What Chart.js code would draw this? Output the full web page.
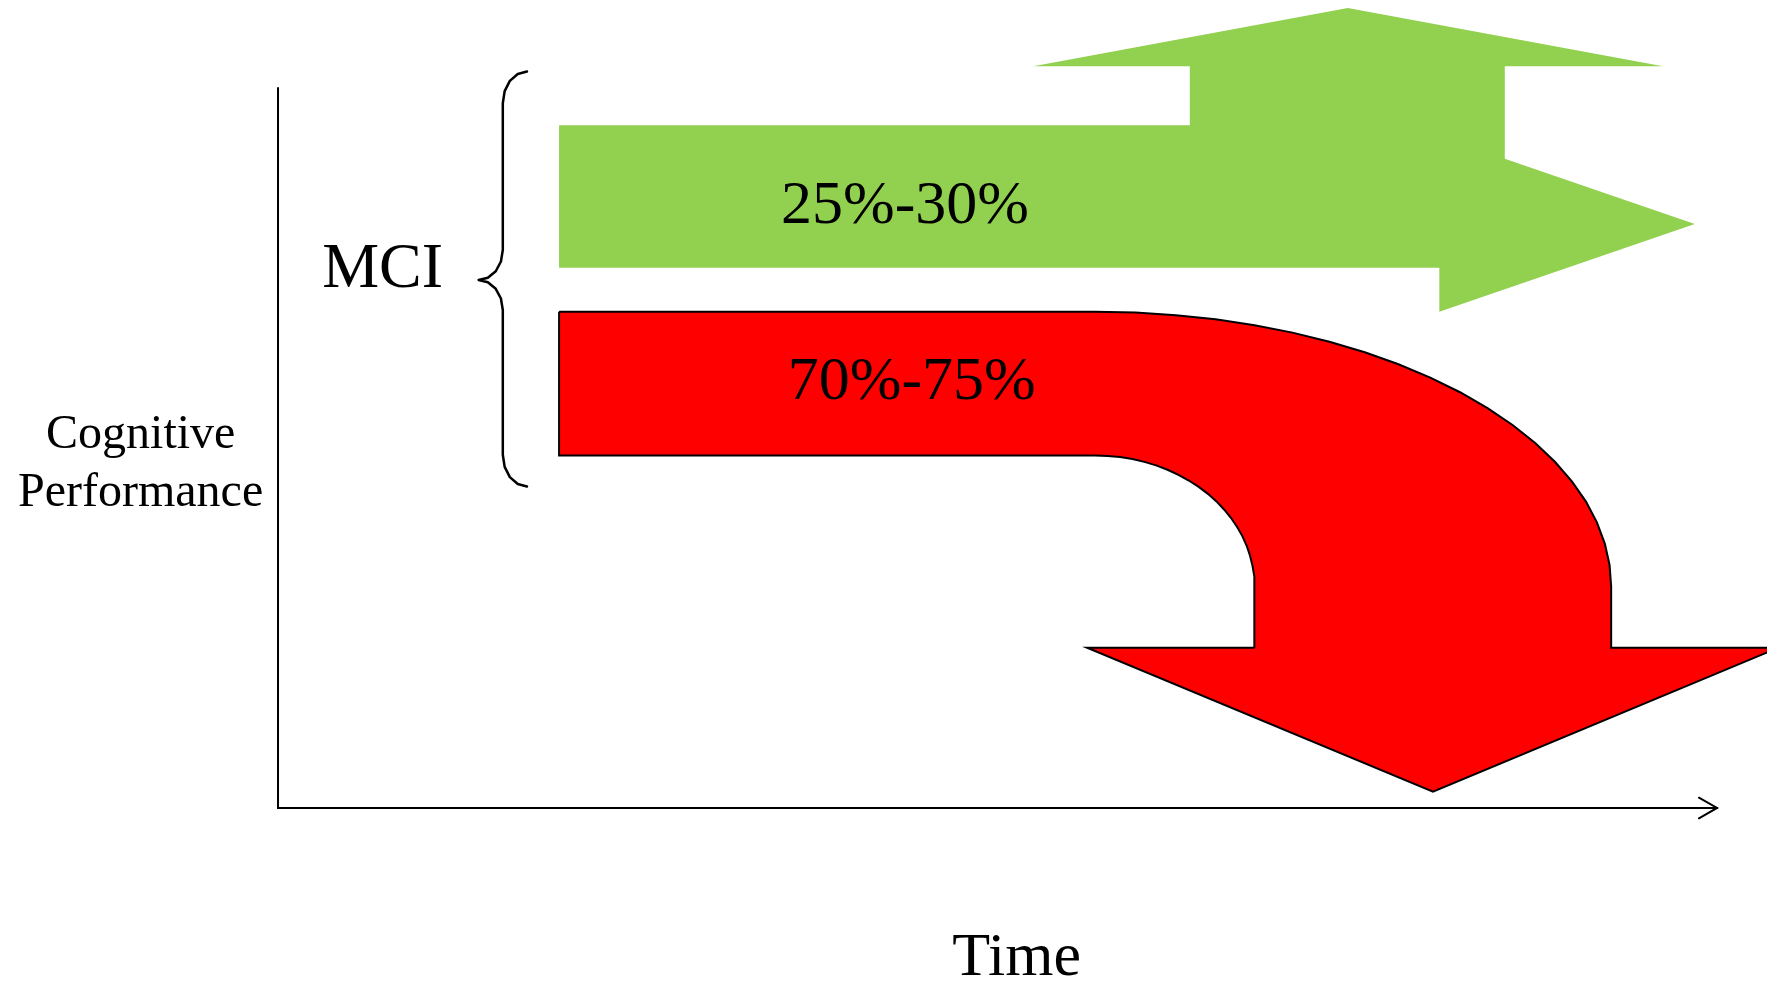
<!DOCTYPE html>
<html>
<head>
<meta charset="utf-8">
<title>MCI outcomes over time</title>
<script src="https://cdn.jsdelivr.net/npm/chart.js@4.4.1/dist/chart.umd.min.js"></script>
<style>
  html, body { margin: 0; padding: 0; background: #ffffff; }
  canvas { display: block; }
</style>
</head>
<body>
<canvas id="chart" width="1767" height="981"></canvas>
<script>
// Time (x) and cognitive performance (y) run 0-100 between the drawn axis lines;
// the scale ranges leave room around them for the arrows and labels.
const xRange = [-19.32, 103.47];
const yRange = [-24.03, 112.22];

// Axis lines: performance axis up the left, time axis along the bottom
const axisX = [0, 0, 100];
const axisY = [100, 0, 0];

// Open arrowhead at the end of the time axis
const axisHeadX = [98.74, 100, 98.74];
const axisHeadY = [1.43, 0, -1.43];

// Green arrow: stable / improving group (outline vertices)
const greenX = [19.53, 63.36, 63.36, 52.49, 74.34, 96.24, 85.25, 85.25, 98.45, 80.70, 80.70, 19.53];
const greenY = [94.82, 94.82, 103.01, 103.01, 111.11, 103.01, 103.01, 90.18, 81.11, 68.93, 75.04, 75.04];

// Red arrow: declining group, bending down towards the time axis
const redX = [19.53, 56.78,
  59.59, 62.39, 65.15, 67.86, 70.50, 73.06, 75.52, 77.86, 80.07, 82.14,
  84.05, 85.79, 87.36, 88.73, 89.91, 90.89, 91.65, 92.20, 92.53, 92.64,
  92.64, 104.27, 80.26, 56.22, 67.86,
  67.86, 67.83, 67.72, 67.55, 67.32, 67.02, 66.65, 66.23, 65.74, 65.21,
  64.62, 63.98, 63.29, 62.57, 61.81, 61.02, 60.20, 59.37, 58.51, 57.65, 56.78,
  19.53, 19.53];
const redY = [68.92, 68.92,
  68.80, 68.45, 67.87, 67.05, 66.02, 64.76, 63.30, 61.63, 59.78, 57.74,
  55.54, 53.19, 50.70, 48.08, 45.36, 42.55, 39.67, 36.73, 33.75, 30.76,
  22.26, 22.26, 2.26, 22.26, 22.26,
  30.76, 32.19, 33.61, 35.01, 36.38, 37.73, 39.02, 40.27, 41.46, 42.58,
  43.63, 44.60, 45.48, 46.28, 46.98, 47.58, 48.07, 48.46, 48.74, 48.90, 48.96,
  48.96, 68.92];

// Curly brace grouping both outcomes under "MCI"
const braceX = [17.30, 16.66, 16.11, 15.75, 15.62, 15.62, 15.49, 15.13, 14.58, 13.94,
  14.58, 15.13, 15.49, 15.62, 15.62, 15.75, 16.11, 16.66, 17.30];
const braceY = [102.28, 101.95, 100.99, 99.56, 97.88, 77.50, 75.90, 74.55, 73.65, 73.33,
  73.01, 72.11, 70.76, 69.16, 49.06, 47.38, 45.95, 44.99, 44.66];

// Text labels (anchored at their baseline centre)
const labelText = ['MCI', '25%-30%', '70%-75%', 'Cognitive', 'Performance', 'Time'];
const labelX    = [7.27, 43.57, 44.04, -9.54, -9.55, 51.33];
const labelY    = [72.32, 81.29, 56.76, 49.96, 41.94, -23.19];
const labelSize = [64, 62, 62, 48, 48, 62];

const toPoints = (xs, ys) => xs.map((x, i) => ({ x: x, y: ys[i] }));

const labelPlugin = {
  id: 'diagramLabels',
  afterDatasetsDraw(chart) {
    const ctx = chart.ctx;
    const xs = chart.scales.x, ys = chart.scales.y;
    ctx.save();
    ctx.fillStyle = '#000000';
    ctx.textAlign = 'center';
    ctx.textBaseline = 'alphabetic';
    labelText.forEach((t, i) => {
      ctx.font = labelSize[i] + 'px "Liberation Serif", "Times New Roman", serif';
      ctx.fillText(t, xs.getPixelForValue(labelX[i]), ys.getPixelForValue(labelY[i]));
    });
    ctx.restore();
  }
};

const strokeOnly = (xs, ys, width, join) => ({
  data: toPoints(xs, ys),
  showLine: true,
  fill: false,
  borderColor: '#000000',
  borderWidth: width,
  borderJoinStyle: join,
  borderCapStyle: 'round',
  pointRadius: 0,
  clip: false
});

new Chart(document.getElementById('chart'), {
  type: 'scatter',
  data: {
    datasets: [
      {
        data: toPoints(greenX, greenY),
        showLine: true,
        fill: 'shape',
        backgroundColor: '#92D050',
        borderColor: '#92D050',
        borderWidth: 0,
        pointRadius: 0,
        clip: false
      },
      {
        data: toPoints(redX, redY),
        showLine: true,
        fill: 'shape',
        backgroundColor: '#FF0000',
        borderColor: '#000000',
        borderWidth: 2,
        borderJoinStyle: 'miter',
        pointRadius: 0,
        clip: false
      },
      strokeOnly(braceX, braceY, 2.5, 'round'),
      strokeOnly(axisX, axisY, 2, 'miter'),
      strokeOnly(axisHeadX, axisHeadY, 2, 'miter')
    ]
  },
  options: {
    responsive: false,
    devicePixelRatio: 1,
    animation: false,
    layout: { padding: 0 },
    plugins: { legend: { display: false }, tooltip: { enabled: false }, title: { display: false } },
    scales: {
      x: { type: 'linear', min: xRange[0], max: xRange[1], display: false },
      y: { type: 'linear', min: yRange[0], max: yRange[1], display: false }
    }
  },
  plugins: [labelPlugin]
});
</script>
</body>
</html>
